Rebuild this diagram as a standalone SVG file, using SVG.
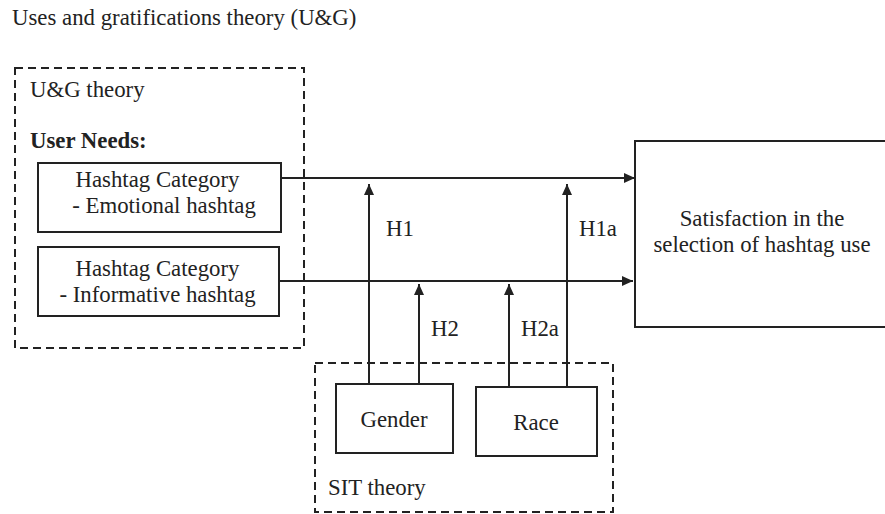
<svg xmlns="http://www.w3.org/2000/svg" width="885" height="514" viewBox="0 0 885 514">
<defs>
<style>
text{font-family:"Liberation Serif","Times New Roman",serif;font-size:22.8px;fill:#222}
.b{font-weight:bold}
.m{text-anchor:middle}
.box{fill:#fff;stroke:#222;stroke-width:2}
.dash{fill:none;stroke:#222;stroke-width:2;stroke-dasharray:8 5}
.con{fill:none;stroke:#222;stroke-width:2}
</style>
<marker id="ah" markerUnits="userSpaceOnUse" markerWidth="11" markerHeight="10" refX="11" refY="5" orient="auto">
<path d="M0,0 L11,5 L0,10 z" fill="#222"/>
</marker>
</defs>
<rect width="885" height="514" fill="#fff"/>
<text x="12" y="25">Uses and gratifications theory (U&amp;G)</text>
<g id="ug-theory">
<rect class="dash" x="15" y="68" width="289" height="280"/>
<text x="30" y="97">U&amp;G theory</text>
<text class="b" x="30" y="148">User Needs:</text>
</g>
<g id="emotional">
<rect class="box" x="38" y="163" width="243" height="69"/>
<text class="m" x="157.5" y="187">Hashtag Category</text>
<text class="m" x="164" y="213">- Emotional hashtag</text>
</g>
<g id="informative">
<rect class="box" x="38" y="247" width="241" height="69"/>
<text class="m" x="157.5" y="276">Hashtag Category</text>
<text class="m" x="157.5" y="302">- Informative hashtag</text>
</g>
<g id="satisfaction">
<rect class="box" x="635" y="141" width="260" height="186"/>
<text class="m" x="762" y="226">Satisfaction in the</text>
<text class="m" x="762" y="252">selection of hashtag use</text>
</g>
<g id="sit-theory">
<rect class="dash" x="315" y="363" width="298" height="149"/>
<text x="328" y="495">SIT theory</text>
</g>
<g id="gender">
<rect class="box" x="336" y="384" width="117" height="69"/>
<text class="m" x="394" y="427">Gender</text>
</g>
<g id="race">
<rect class="box" x="476" y="387" width="121" height="69"/>
<text class="m" x="536" y="430">Race</text>
</g>
<g id="connectors">
<path class="con" d="M281,178 H635" marker-end="url(#ah)"/>
<path class="con" d="M279,281 H633" marker-end="url(#ah)"/>
<path class="con" d="M369,384 V184" marker-end="url(#ah)"/>
<path class="con" d="M419,384 V284" marker-end="url(#ah)"/>
<path class="con" d="M509,387 V284" marker-end="url(#ah)"/>
<path class="con" d="M567,387 V184" marker-end="url(#ah)"/>
<text x="386" y="236">H1</text>
<text x="579" y="236">H1a</text>
<text x="431" y="336">H2</text>
<text x="521" y="336">H2a</text>
</g>
</svg>
